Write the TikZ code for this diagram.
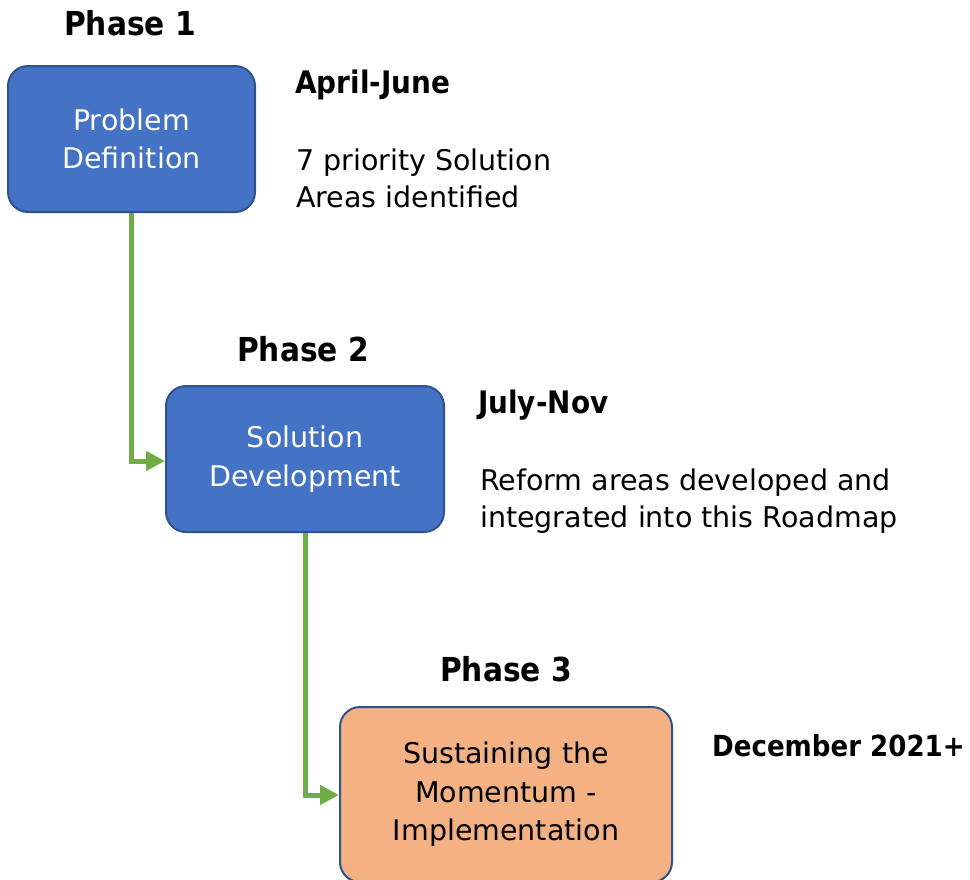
\documentclass[tikz,border=0pt]{standalone}
\usepackage{fontspec}
\setmainfont{DejaVu Sans}
\newfontfamily\condbold{DejaVu Sans Condensed Bold}
\usetikzlibrary{arrows.meta}
\definecolor{boxblue}{HTML}{4472C4}
\definecolor{boxedge}{HTML}{2F528F}
\definecolor{boxorange}{HTML}{F4B183}
\definecolor{linkgreen}{HTML}{70AD47}
\tikzset{
  phasebox/.style={draw=boxedge, line width=2pt, rounded corners=20pt, align=center,
    inner sep=0pt, font=\fontsize{28.5}{38.5}\selectfont},
  bluebox/.style={phasebox, fill=boxblue, text=white},
  orangebox/.style={phasebox, fill=boxorange, text=black},
  phaselabel/.style={anchor=base, font=\condbold\fontsize{33}{40}\selectfont},
  notetext/.style={anchor=base west, font=\fontsize{28.5}{37}\selectfont, inner sep=0pt},
  notehead/.style={anchor=base west, font=\condbold\fontsize{31}{37}\selectfont, inner sep=0pt},
  link/.style={draw=linkgreen, line width=5pt, -{Triangle[length=19pt,width=19pt]}}
}
\begin{document}
\begin{tikzpicture}[x=1pt,y=-1pt]
\useasboundingbox (0,0) rectangle (970,879);
% boxes
\node[bluebox, minimum width=247pt, minimum height=146pt] (b1) at (131.5,139) {Problem\\Definition};
\node[bluebox, minimum width=278pt, minimum height=146pt] (b2) at (305,459) {Solution\\Development};
\node[orangebox, minimum width=332pt, minimum height=175pt] (b3) at (506,794.5) {Sustaining the\\Momentum -\\Implementation};
% phase labels
\node[phaselabel] (p1) at (130,35) {Phase 1};
\node[phaselabel] (p2) at (303,361) {Phase 2};
\node[phaselabel] (p3) at (506,681) {Phase 3};
% notes
\node[notehead] (n1) at (295,93) {April-June};
\node[notetext] (n1a) at (296,170) {7 priority Solution};
\node[notetext] (n1b) at (296,207) {Areas identified};
\node[notehead] (n2) at (478,413) {July-Nov};
\node[notetext] (n2a) at (480,490) {Reform areas developed and};
\node[notetext] (n2b) at (480,527) {integrated into this Roadmap};
\node[notehead, font=\condbold\fontsize{29}{37}\selectfont] (n3) at (712,756) {December 2021+};
% connectors
\coordinate (c1) at (131,461);
\coordinate (c2) at (305,795);
\draw[link] (b1.south -| c1) -- (c1) -- (c1 -| b2.west);
\draw[link] (b2.south -| c2) -- (c2) -- (c2 -| b3.west);
\end{tikzpicture}
\end{document}
